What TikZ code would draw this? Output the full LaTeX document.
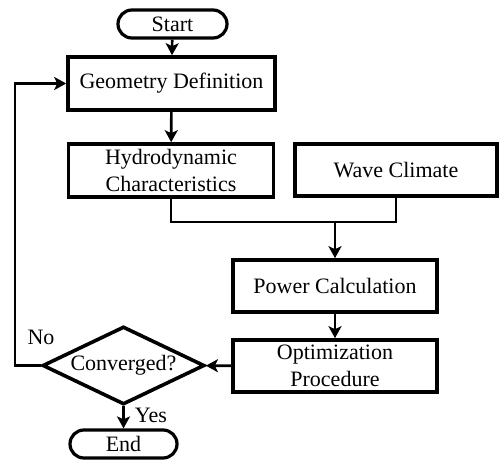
\documentclass[tikz,border=0pt]{standalone}
\usepackage{fontspec}
\setmainfont{Liberation Serif}
\newfontfamily\diagfont{Liberation Serif}
\usetikzlibrary{shapes.geometric,arrows.meta}
\begin{document}
\begin{tikzpicture}[x=0.5pt,y=-0.5pt,
  every node/.style={font=\diagfont\fontsize{11}{13.5}\selectfont, text=black},
  box/.style={draw, line width=1.8pt, rectangle, inner sep=0pt, minimum width=#1, minimum height=26pt, align=center},
  box/.default=102pt,
  term/.style={draw, line width=1.6pt, rectangle, rounded corners=7pt, inner sep=0pt, minimum width=#1, minimum height=14pt},
  term/.default=54pt,
  decision/.style={draw, line width=1.8pt, diamond, aspect=2.1, inner sep=0pt, minimum width=81pt, minimum height=39pt},
  conn/.style={line width=1.3pt},
  arr/.style={line width=1.3pt, -{Stealth[length=6pt,width=6.5pt,inset=1.5pt]}},
  lbl/.style={inner sep=0pt}
]
\useasboundingbox (0,0) rectangle (500,461);

\node[term=54.5pt] (start) at (172.5,24) {Start};
\node[box=103.5pt, minimum height=26.5pt] (geo) at (171.5,83.5) {Geometry Definition};
\node[box=102.5pt, minimum height=26.5pt] (hydro) at (171,170.5) {Hydrodynamic\\Characteristics};
\node[box=101pt] (wave) at (396,170) {Wave Climate};
\node[box=102pt] (power) at (335,286) {Power Calculation};
\node[box=102pt] (opt) at (335,366) {Optimization\\Procedure};
\node[decision] (conv) at (123.5,365.5) {\makebox[0pt]{Converged?}};
\node[term=53.5pt] (end) at (123.5,444) {End};

\node[lbl] (no) at (41,337) {No};
\node[lbl] (yes) at (151,415) {Yes};

\coordinate (j) at (335,222);
\coordinate (fb) at (15,365.5);

\draw[arr] (start) -- (geo);
\draw[arr] (geo) -- (hydro);
\draw[conn] (hydro.south) -- (hydro.south |- j) -| (wave.south);
\draw[arr] (j) -- (power);
\draw[arr] (power) -- (opt);
\draw[arr] (opt) -- (conv);
\draw[arr] (conv.south) -- (end.north);
\draw[arr] (conv.west) -- (fb) |- (geo.west);
\end{tikzpicture}
\end{document}
